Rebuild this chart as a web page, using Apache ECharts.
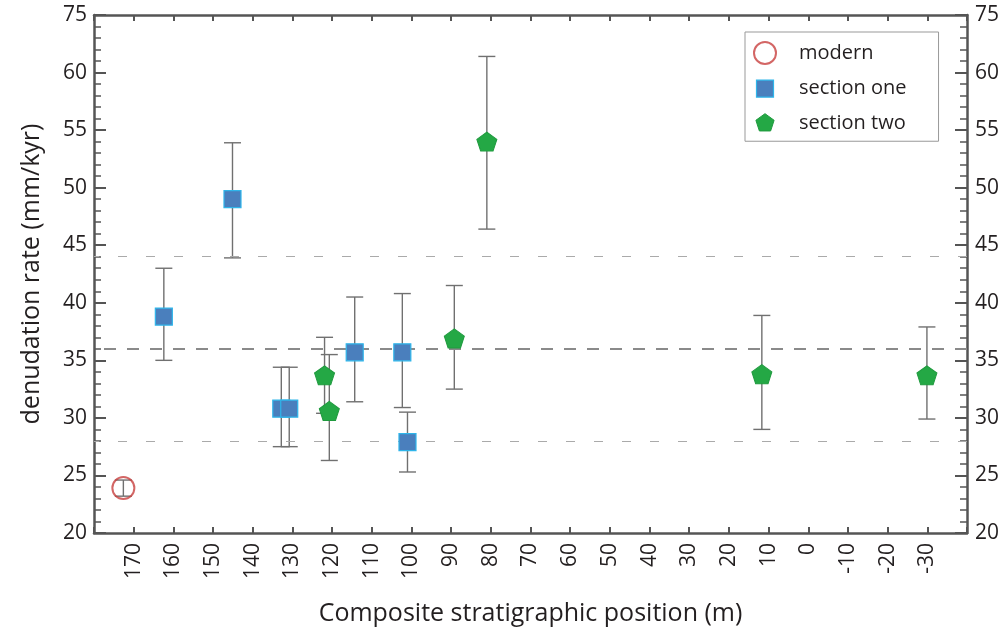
<!DOCTYPE html>
<html>
<head>
<meta charset="utf-8">
<script src="https://cdn.jsdelivr.net/npm/echarts@6/dist/echarts.min.js"></script>
<style>html,body{margin:0;padding:0;background:#fff;}#c{width:1006px;height:632px;}</style>
</head>
<body>
<div id="c"></div>
<script>
// ---- data ----
const modernX = [172.6];
const modernY = [23.9];
const modernLo = [23.2];
const modernHi = [24.6];

const sectionOneX = [162.4, 145.1, 132.8, 130.8, 114.3, 102.3, 101.0];
const sectionOneY = [38.8, 49.0, 30.8, 30.8, 35.7, 35.7, 27.9];
const sectionOneLo = [35.0, 43.9, 27.5, 27.5, 31.4, 30.9, 25.3];
const sectionOneHi = [43.0, 53.9, 34.4, 34.4, 40.5, 40.8, 30.5];

const sectionTwoX = [121.9, 120.7, 89.2, 81.0, 11.7, -29.9];
const sectionTwoY = [33.7, 30.6, 36.9, 54.0, 33.8, 33.7];
const sectionTwoLo = [30.4, 26.3, 32.5, 46.4, 29.0, 29.9];
const sectionTwoHi = [37.0, 35.5, 41.5, 61.4, 38.9, 37.9];

const refLines = [44, 36, 28];
const yTickLabels = {20:'20',25:'25',30:'30',35:'35',40:'40',45:'45',50:'50',55:'55',60:'60',65:'75'};
const xLabelValues = [170,160,150,140,130,120,110,100,90,80,70,60,50,40,30,20,10,0,-10,-20,-30];

// ---- build ----
const zip = (xs, ys) => xs.map((x, i) => [x, ys[i]]);
const errData = [];
[[modernX, modernLo, modernHi], [sectionOneX, sectionOneLo, sectionOneHi], [sectionTwoX, sectionTwoLo, sectionTwoHi]]
  .forEach(([xs, lo, hi]) => xs.forEach((x, i) => errData.push([x, lo[i], hi[i]])));

const FONT = 'Open Sans';
const TXT = '#231f20';
const AX = '#555555';
const pentagon = 'path://M0,-1 L0.951,-0.309 L0.588,0.809 L-0.588,0.809 L-0.951,-0.309 Z';
const pentagonLegend = 'path://M-1.15,-1.1 M1.15,1.1 M0,-1 L0.951,-0.309 L0.588,0.809 L-0.588,0.809 L-0.951,-0.309 Z';
const squareLegend = 'path://M-11,-11 M11,11 M-8.5,-8.5 L8.5,-8.5 L8.5,8.5 L-8.5,8.5 Z';

const yAxisBase = {
  type: 'value', min: 20, max: 65, interval: 5,
  axisLine: {show: true, onZero: false, lineStyle: {color: AX, width: 2.5}},
  axisTick: {show: true, inside: true, length: 12, lineStyle: {color: AX, width: 2}},
  minorTick: {show: true, splitNumber: 5, length: 7, lineStyle: {color: AX, width: 1.5}},
  splitLine: {show: false},
  axisLabel: {color: TXT, fontFamily: FONT, fontSize: 21, margin: 7,
    formatter: v => yTickLabels[v] !== undefined ? yTickLabels[v] : ''}
};

const option = {
  animation: false,
  backgroundColor: '#ffffff',
  grid: {left: 94, right: 39, top: 15, bottom: 99, containLabel: false},
  legend: {
    orient: 'vertical', left: 745, top: 32,
    padding: [9, 32, 7, 8], itemGap: 12, itemWidth: 22, itemHeight: 22,
    borderColor: '#999999', borderWidth: 1, backgroundColor: '#ffffff',
    textStyle: {color: TXT, fontFamily: FONT, fontSize: 20, padding: [0, 0, 0, 18]},
    data: [
      {name: 'modern', icon: 'circle', itemStyle: {color: '#ffffff', borderColor: '#c8403f', borderWidth: 2}},
      {name: 'section one', icon: squareLegend, itemStyle: {color: '#4a7fbd', borderColor: '#2fb5ea', borderWidth: 1.2}},
      {name: 'section two', icon: pentagonLegend, itemStyle: {color: '#24a845', borderColor: '#1f9a3e', borderWidth: 1}}
    ]
  },
  xAxis: [
    {
      type: 'value', min: -40, max: 180, interval: 10, inverse: true, position: 'bottom',
      name: 'Composite stratigraphic position (m)', nameLocation: 'middle', nameGap: 68,
      nameTextStyle: {color: TXT, fontFamily: FONT, fontSize: 25},
      axisLine: {show: true, onZero: false, lineStyle: {color: AX, width: 2.5}},
      axisTick: {show: true, inside: true, length: 6, lineStyle: {color: AX, width: 2}},
      splitLine: {show: false},
      axisLabel: {color: TXT, fontFamily: FONT, fontSize: 21, rotate: 90, margin: 10,
        formatter: v => xLabelValues.indexOf(v) >= 0 ? String(v) : ''}
    },
    {
      type: 'value', min: -40, max: 180, interval: 10, inverse: true, position: 'top',
      axisLine: {show: true, onZero: false, lineStyle: {color: AX, width: 2.5}},
      axisTick: {show: true, inside: true, length: 6, lineStyle: {color: AX, width: 2}},
      splitLine: {show: false}, axisLabel: {show: false}
    }
  ],
  yAxis: [
    Object.assign({}, yAxisBase, {
      position: 'left', name: 'denudation rate (mm/kyr)', nameLocation: 'middle', nameGap: 50,
      nameTextStyle: {color: TXT, fontFamily: FONT, fontSize: 25}
    }),
    Object.assign({}, yAxisBase, {position: 'right', axisLabel: Object.assign({}, yAxisBase.axisLabel, {margin: 8})})
  ],
  series: [
    {
      type: 'line', name: 'refs', data: [], silent: true, z: 1,
      markLine: {
        silent: true, symbol: 'none', label: {show: false},
        data: [
          {yAxis: refLines[0], lineStyle: {type: [9, 19], color: '#aaaaaa', width: 1.2}},
          {yAxis: refLines[1], lineStyle: {type: [12, 11], color: '#8a8a8a', width: 2.2}},
          {yAxis: refLines[2], lineStyle: {type: [9, 19], color: '#aaaaaa', width: 1.2}}
        ]
      }
    },
    {
      type: 'custom', name: 'err', z: 2, silent: true,
      data: errData,
      encode: {x: 0, y: [1, 2]},
      renderItem: function (params, api) {
        const x = api.value(0);
        const lo = api.coord([x, api.value(1)]);
        const hi = api.coord([x, api.value(2)]);
        const hw = 8.5;
        const st = {stroke: '#707070', lineWidth: 1.4};
        return {
          type: 'group', children: [
            {type: 'line', shape: {x1: lo[0], y1: lo[1], x2: hi[0], y2: hi[1]}, style: st},
            {type: 'line', shape: {x1: hi[0] - hw, y1: hi[1], x2: hi[0] + hw, y2: hi[1]}, style: st},
            {type: 'line', shape: {x1: lo[0] - hw, y1: lo[1], x2: lo[0] + hw, y2: lo[1]}, style: st}
          ]
        };
      }
    },
    {
      type: 'scatter', name: 'modern', z: 5, data: zip(modernX, modernY),
      symbol: 'circle', symbolSize: 22,
      itemStyle: {color: 'rgba(255,255,255,0)', borderColor: '#c8403f', borderWidth: 2}
    },
    {
      type: 'scatter', name: 'section one', z: 5, data: zip(sectionOneX, sectionOneY),
      symbol: 'rect', symbolSize: 17,
      itemStyle: {color: '#4a7fbd', borderColor: '#2fb5ea', borderWidth: 1.2, opacity: 1}
    },
    {
      type: 'scatter', name: 'section two', z: 5, data: zip(sectionTwoX, sectionTwoY),
      symbol: pentagon, symbolSize: [20, 19],
      itemStyle: {color: '#24a845', borderColor: '#1f9a3e', borderWidth: 1, opacity: 1}
    }
  ]
};

const chart = echarts.init(document.getElementById('c'), null, {renderer: 'canvas'});
chart.setOption(option);
</script>
</body>
</html>
